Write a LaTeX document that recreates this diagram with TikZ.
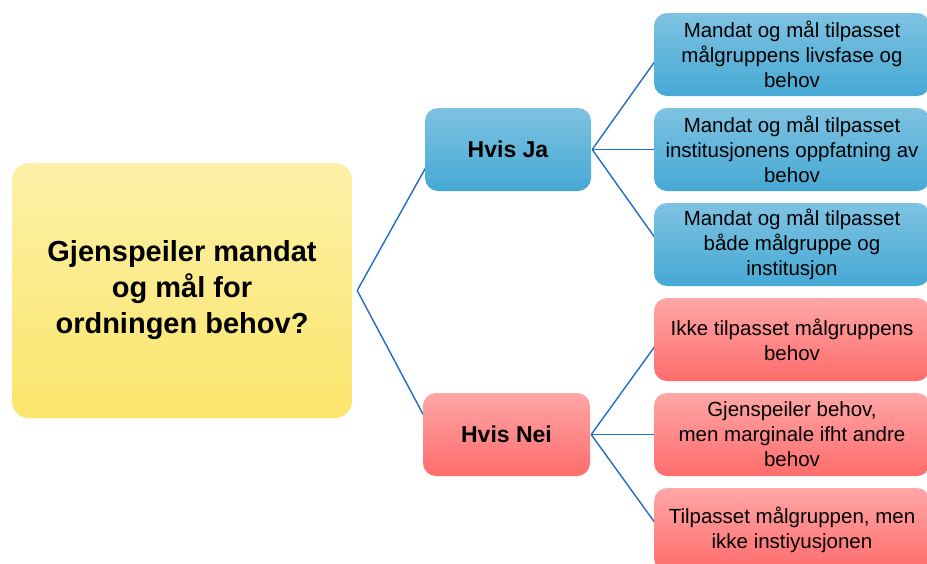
\documentclass[tikz,border=0pt]{standalone}
\usepackage{fontspec}
\setmainfont{Liberation Sans}
\usepackage{xcolor}
\usepackage{tikz}
\usetikzlibrary{positioning, backgrounds}

\definecolor{rootTop}{RGB}{252,241,168}
\definecolor{rootBot}{RGB}{251,229,108}
\definecolor{jaTop}{RGB}{126,194,226}
\definecolor{jaBot}{RGB}{70,169,212}
\definecolor{neiTop}{RGB}{255,166,166}
\definecolor{neiBot}{RGB}{255,108,108}
\definecolor{linkBlue}{RGB}{31,110,192}

\begin{document}
\begin{tikzpicture}[x=1pt, y=-1pt, on grid, node distance=95pt,
        box/.style={rectangle, rounded corners=13pt, align=center, inner sep=0pt, text=black},
        question/.style={box, rounded corners=17pt, top color=rootTop, bottom color=rootBot,
            minimum width=340pt, minimum height=255pt, font=\fontsize{29}{36}\selectfont\bfseries},
        jabox/.style={box, top color=jaTop, bottom color=jaBot,
            minimum width=166pt, minimum height=83pt, font=\fontsize{23}{28}\selectfont\bfseries},
        neibox/.style={box, top color=neiTop, bottom color=neiBot,
            minimum width=167pt, minimum height=83pt, font=\fontsize{23}{28}\selectfont\bfseries},
        jaleaf/.style={box, top color=jaTop, bottom color=jaBot,
            minimum width=276pt, minimum height=83pt, font=\fontsize{20.5}{25}\selectfont},
        neileaf/.style={box, top color=neiTop, bottom color=neiBot,
            minimum width=276pt, minimum height=83pt, font=\fontsize{20.5}{25}\selectfont},
        link/.style={draw=linkBlue, line width=1.4pt}]
        \clip (0,0) rectangle (927,563);

        \node[question] (q) at (182,290.5) {Gjenspeiler mandat\\og mål for\\ordningen behov?};

        \node[jabox] (ja) [above right=141pt and 326pt of q] {Hvis Ja};
        \node[neibox] (nei) [below right=144pt and 324.5pt of q] {Hvis Nei};

        \node[jaleaf] (j2) [right=284pt of ja] {Mandat og mål tilpasset\\institusjonens oppfatning av\\behov};
        \node[jaleaf] (j1) [above=of j2] {Mandat og mål tilpasset\\målgruppens livsfase og\\behov};
        \node[jaleaf] (j3) [below=of j2] {Mandat og mål tilpasset\\både målgruppe og\\institusjon};

        \node[neileaf] (n2) [right=285.5pt of nei] {Gjenspeiler behov,\\men marginale ifht andre\\behov};
        \node[neileaf] (n1) [above=of n2] {Ikke tilpasset målgruppens\\behov};
        \node[neileaf] (n3) [below=of n2] {Tilpasset målgruppen, men\\ikke instiyusjonen};

        \begin{scope}[on background layer]
        \path[link]
        ([xshift=5pt]q.east) edge ([xshift=11pt]ja.west)
        ([xshift=5pt]q.east) edge ([xshift=11pt]nei.west)

        ([xshift=1pt]ja.east) edge ([xshift=6pt]j1.west)
        ([xshift=1pt]ja.east) edge ([xshift=6pt]j2.west)
        ([xshift=1pt]ja.east) edge ([xshift=6pt]j3.west)

        ([xshift=1pt]nei.east) edge ([xshift=6pt]n1.west)
        ([xshift=1pt]nei.east) edge ([xshift=6pt]n2.west)
        ([xshift=1pt]nei.east) edge ([xshift=6pt]n3.west);
        \end{scope}
    \end{tikzpicture}
\end{document}
